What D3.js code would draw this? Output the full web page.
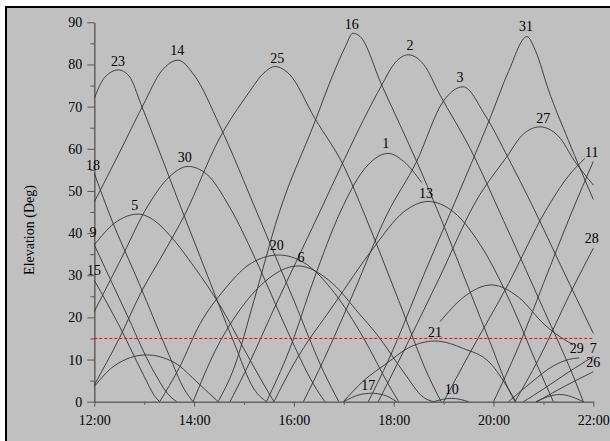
<!DOCTYPE html>
<html>
<head>
<meta charset="utf-8">
<script src="https://cdn.jsdelivr.net/npm/d3@7"></script>
<style>
  body { margin: 0; background: #fff; }
  text { font-family: "Liberation Serif", "Times New Roman", serif; }
</style>
</head>
<body>
<div id="chart"></div>
<script>
// elevation tracks, [hour, degrees]
const prn23 = [[12.0,72],[12.2,76.8],[12.48,78.7],[12.7,77.2],[12.94,70.4],[13.3,59.5],[13.64,49],[14.2,32],[14.8,14],[15.2,3],[15.45,0]];
const prn14 = [[12.0,47.4],[12.5,59],[12.98,70.4],[13.35,78.5],[13.68,81],[14.0,77.5],[14.51,65.6],[15.28,44.3],[16.0,24],[16.6,7],[16.9,0]];
const prn30 = [[12.0,21.4],[12.5,33],[13.08,46.6],[13.5,53.3],[13.88,55.8],[14.25,54],[14.72,46],[15.3,32],[15.9,16],[16.4,4],[16.62,0]];
const prn18 = [[12.0,54.2],[12.31,44.3],[12.9,28],[13.5,11],[13.8,3],[13.98,0]];
const prn9  = [[12.0,37.2],[12.6,22],[13.2,7],[13.5,1.5],[13.65,0]];
const prn15 = [[12.0,28.8],[12.5,18],[13.0,6],[13.2,1.5],[13.31,0]];
const prn5  = [[12.0,37.2],[12.4,42.3],[12.88,44.5],[13.2,43],[13.51,39.5],[14.0,32],[14.51,23],[15.0,12.5],[15.4,4],[15.6,0]];
const lowA  = [[12.0,3.6],[12.4,8.5],[13.04,11.1],[13.6,9.3],[14.1,4.2],[14.48,0]];
const prn25 = [[12.0,4],[12.5,15],[12.94,26],[13.4,35.5],[13.81,44.3],[14.51,62.5],[15.09,73.2],[15.4,78],[15.62,79.5],[15.9,77.8],[16.42,67.2],[17.02,55.4],[17.42,44.3],[18.1,24],[18.7,6],[18.95,0]];
const prn20 = [[13.31,0],[13.7,8],[14.12,18.5],[14.6,26.5],[15.1,32.5],[15.69,34.8],[16.2,33],[16.8,26],[17.4,15],[17.9,4],[18.1,0]];
const prn6  = [[13.98,0],[14.42,12],[14.9,21.5],[15.42,28.5],[16.08,32.2],[16.78,28],[17.3,21],[17.66,16],[18.2,7],[18.6,1],[18.8,0]];
const prn16 = [[14.48,0],[14.8,8],[15.2,24],[15.69,44.3],[16.42,66.4],[16.78,77.5],[17.03,84.2],[17.18,87.4],[17.33,86.6],[17.76,75.1],[18.13,65.6],[18.49,56.2],[18.86,45.9],[19.5,27],[20.0,12],[20.3,3],[20.43,0]];
const prn2  = [[14.72,0],[15.1,9],[15.6,22],[16.49,44.3],[17.02,57.7],[17.4,67],[17.76,75.1],[18.0,80],[18.29,82.3],[18.6,80],[18.93,72.7],[19.53,60.1],[20.2,43],[21.0,22],[21.6,6],[21.8,0]];
const prn1  = [[15.45,0],[15.9,12],[16.4,29],[16.93,45],[17.4,55],[17.89,58.9],[18.2,57],[18.56,52]];
const prn13 = [[15.6,0],[16.0,9],[16.8,23],[17.59,36.4],[18.2,45],[18.69,47.5],[19.2,45],[19.8,36],[20.4,22],[20.9,8],[21.2,0]];
const prn3  = [[16.19,0],[16.6,10],[17.2,26],[17.86,44.3],[18.46,57],[18.99,71.2],[19.39,74.7],[19.83,68],[20.3,57.7],[20.77,46.7],[21.4,31],[22.0,16.2]];
const prn31 = [[17.49,0],[17.9,10],[18.6,30],[19.43,53],[19.93,67.2],[20.3,78.3],[20.67,86.6],[20.85,83],[21.1,74],[21.5,62],[22.0,48]];
const prn27 = [[17.69,0],[18.2,12],[18.9,29],[19.66,47.8],[20.26,58],[20.6,63.5],[20.93,65.2],[21.3,63],[21.63,57],[22.0,51.4]];
const prn11 = [[20.0,0],[20.5,13],[21.0,28],[21.57,45],[22.0,57]];
const prn11b = [[19.0,0],[19.5,11],[20.3,28],[21.03,45],[21.5,53.5],[21.83,57.7]];
const prn28 = [[20.43,0],[20.9,10],[21.57,26.5],[22.0,36.4]];
const prn21 = [[16.99,0],[17.4,5],[17.86,9.1],[18.3,12.8],[18.83,14.4],[19.4,12.6],[19.93,9.2],[20.3,3],[20.45,0]];
const prn21b = [[18.93,19],[19.4,24.8],[19.96,27.7],[20.5,24.8],[21.03,18.2],[21.45,14.5],[21.6,13.5]];
const prn29 = [[20.3,0],[20.77,4.7],[21.2,8.5],[21.5,10],[21.72,10.4]];
const prn26 = [[20.6,0],[21.0,3],[21.5,7],[22.0,10.7]];
const prn7  = [[20.87,0],[21.4,3.5],[22.0,7.1]];
const prn17 = [[17.0,0],[17.3,1.6],[17.56,2],[17.8,1.6],[18.06,0]];
const prn10 = [[18.8,0],[19.16,0.8],[19.5,0]];
const lowB  = [[20.85,0],[21.33,1.7],[21.8,0]];

const tracks = [prn23, prn14, prn30, prn18, prn9, prn15, prn5, lowA, prn25, prn20, prn6,
  prn16, prn2, prn1, prn13, prn3, prn31, prn27, prn11, prn11b, prn28, prn21, prn21b,
  prn29, prn26, prn7, prn17, prn10, lowB];

// satellite labels: [prn, hour, degrees]
const satLabels = [
  ["23",12.475,80.7],["14",13.663,83.4],["25",15.667,81.5],["16",17.158,89.6],["2",18.327,84.5],
  ["3",19.329,76.9],["31",20.651,89.0],["27",20.998,67.2],["11",21.968,59.3],["1",17.84,61.3],
  ["13",18.647,49.4],["30",13.812,58.1],["18",11.974,56.2],["5",12.81,46.7],["9",11.974,40.3],
  ["15",11.994,31.2],["20",15.655,37.2],["6",16.142,34.2],["28",21.968,38.8],["21",18.83,16.6],
  ["17",17.491,4.0],["10",19.162,2.9],["29",21.667,12.7],["7",22.0,12.7],["26",22.0,9.4]
];

const hourTicks = [12,14,16,18,20,22];
const hourLabels = ["12:00","14:00","16:00","18:00","20:00","22:00"];
const maskAngle = 15;

const W = 610, H = 441;
const svg = d3.select('#chart').append('svg').attr('width', W).attr('height', H);

svg.append('rect').attr('x',5).attr('y',6).attr('width',W).attr('height',H).attr('fill','#000');
svg.append('rect').attr('x',7).attr('y',8).attr('width',W).attr('height',H).attr('fill','#c0c0c0');

var x = d3.scaleLinear().domain([12,22]).range([94.3,593.3]);
var y = d3.scaleLinear().domain([0,90]).range([401.7,22.3]);

// minor ticks first
svg.append('g')
  .attr('transform','translate(' + x(12) + ',0)')
  .call(d3.axisLeft(y).tickValues(d3.range(5,90,10)).tickSize(4).tickFormat(''))
  .call(g => g.select('.domain').remove());
svg.append('g')
  .attr('transform','translate(0,' + y(0) + ')')
  .call(d3.axisBottom(x).tickValues(d3.range(13,22,2)).tickSize(3).tickFormat(''))
  .call(g => g.select('.domain').remove());

var yAxis = svg.append('g')
  .attr('transform','translate(' + x(12) + ',0)')
  .call(d3.axisLeft(y).tickValues(d3.range(0,91,10)).tickSize(7).tickSizeOuter(0).tickPadding(5));
var xAxis = svg.append('g')
  .attr('transform','translate(0,' + y(0) + ')')
  .call(d3.axisBottom(x).tickValues(hourTicks).tickSize(5).tickSizeOuter(0).tickPadding(8)
    .tickFormat((d,i) => hourLabels[i]));

svg.selectAll('.tick line').attr('stroke','#555');
svg.selectAll('.domain').attr('stroke','#666').attr('stroke-width',1.6);
svg.selectAll('.tick text').attr('font-size',14).attr('fill','#000')
  .attr('font-family','"Liberation Serif", serif');

svg.append('text')
  .attr('transform','translate(34,230)rotate(-90)')
  .attr('text-anchor','middle')
  .attr('font-size',14)
  .text('Elevation (Deg)');

var line = d3.line().x(d => x(d[0])).y(d => y(d[1])).curve(d3.curveMonotoneX);

svg.append('g').selectAll('path')
  .data(tracks)
  .join('path')
  .attr('d', line)
  .attr('fill','none')
  .attr('stroke','#333')
  .attr('stroke-width',0.9);

svg.append('line')
  .attr('x1', x(12)).attr('x2', x(22))
  .attr('y1', y(maskAngle)).attr('y2', y(maskAngle))
  .attr('stroke','#f00')
  .attr('stroke-dasharray','3,2')
  .attr('stroke-width',1);

svg.append('g').selectAll('text')
  .data(satLabels)
  .join('text')
  .attr('x', d => x(d[1]))
  .attr('y', d => y(d[2]))
  .attr('dy','0.35em')
  .attr('text-anchor','middle')
  .attr('font-size',14)
  .text(d => d[0]);
</script>
</body>
</html>
